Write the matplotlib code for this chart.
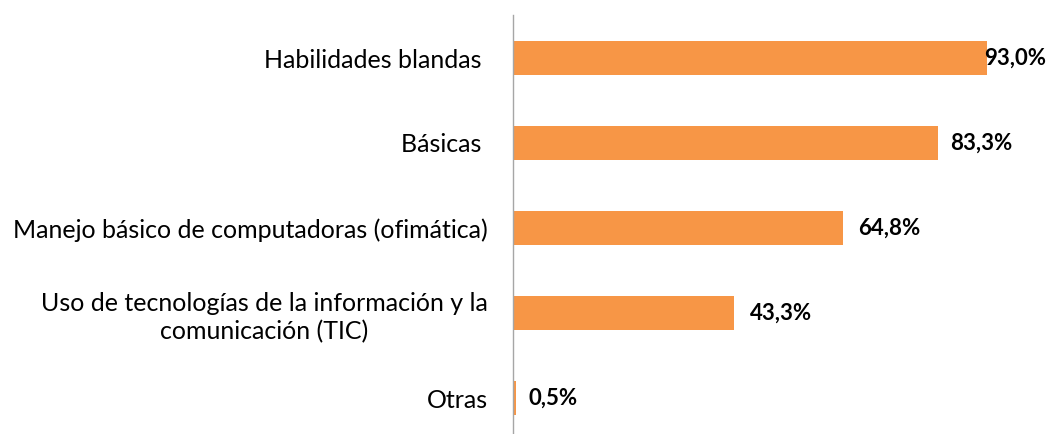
import matplotlib
matplotlib.use("Agg")
import matplotlib.pyplot as plt

plt.rcParams["font.family"] = ["Lato", "DejaVu Sans"]

categorias = [
    "Habilidades blandas ",
    "Básicas ",
    "Manejo básico de computadoras (ofimática)",
    "Uso de tecnologías de la información y la\ncomunicación (TIC)",
    "Otras",
]
valores = [93.0, 83.3, 64.8, 43.3, 0.5]
etiquetas = ["93,0%", "83,3%", "64,8%", "43,3%", "0,5%"]
# the first label sits on the bar end in the original
desfase = [-2, 9, 10.5, 11.5, 9.5]

fig = plt.figure(figsize=(10.47, 4.34), dpi=100)
ax = fig.add_axes([513 / 1047, 0.0, (1022.7 - 513) / 1047, 1 - 15 / 434])

pos = list(range(len(categorias)))
ax.barh(pos, valores, height=0.4, color="#F79646")

for p, v, t, d in zip(pos, valores, etiquetas, desfase):
    ax.annotate(t, (v, p), xytext=(d, 0), textcoords="offset points",
                ha="left", va="center", fontsize=16, fontweight="bold",
                color="black", annotation_clip=False)

ax.set_xlim(0, 100)
ax.set_ylim(4 + 36 / 85, -43 / 85)
ax.set_yticks(pos)
ax.set_yticklabels(categorias, fontsize=18, multialignment="center",
                   linespacing=1.25)
ax.tick_params(axis="y", length=0, pad=18)
ax.set_xticks([])
for s in ["top", "right", "bottom"]:
    ax.spines[s].set_visible(False)
ax.spines["left"].set_color("#A6A6A6")
ax.spines["left"].set_linewidth(1)

fig.savefig("out.png", dpi=100, facecolor="white")
